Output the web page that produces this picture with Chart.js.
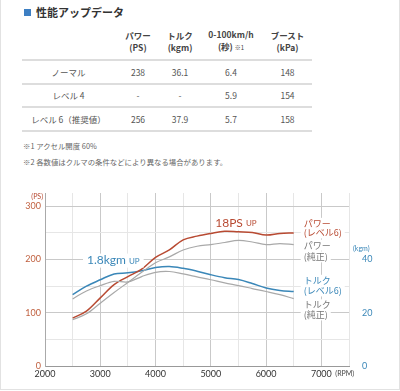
<!DOCTYPE html>
<html lang="ja">
<head>
<meta charset="UTF-8">
<title>性能アップデータ</title>
<script src="https://cdn.jsdelivr.net/npm/chart.js"></script>
<style>
    body {
        margin: 0;
        padding: 0;
        background: #fff;
        font-family: "Noto Sans CJK JP", "Noto Sans", sans-serif;
        color: #444;
    }

    .pagina {
        position: relative;
        width: 398px;
        height: 389px;
        border: 1px solid #e2e2e2;
        border-top: none;
        overflow: hidden;
    }

    .titulo {
        position: absolute;
        left: 23px;
        top: 4px;
        font-size: 11px;
        font-weight: bold;
        color: #333;
        line-height: 16px;
    }

    .titulo span {
        display: inline-block;
        width: 7px;
        height: 7px;
        background: #3d7fc3;
        margin-right: 5px;
        vertical-align: 1px;
    }

    table {
        position: absolute;
        left: 21px;
        top: 23px;
        border-collapse: collapse;
        font-size: 8.5px;
        color: #555;
    }

    th {
        font-weight: bold;
        color: #444;
        line-height: 12.5px;
        height: 36px;
        padding: 0;
        border-bottom: 2px solid #ddd;
        vertical-align: middle;
    }

    th small {
        font-size: 6px;
        font-weight: normal;
    }

    td {
        text-align: center;
        height: 21.5px;
        padding: 0;
        border-bottom: 2px solid #ddd;
    }

    .notas {
        position: absolute;
        left: 22px;
        top: 138px;
        font-size: 7.4px;
        color: #666;
        line-height: 16px;
    }

    .grafico {
        position: absolute;
        left: 0;
        top: 180px;
        width: 400px;
        height: 205px;
    }
</style>
</head>
<body>
<div class="pagina">
    <div class="titulo"><span></span>性能アップデータ</div>
    <table>
        <tr>
            <th style="width:93px"></th>
            <th style="width:46px">パワー<br>(PS)</th>
            <th style="width:38px">トルク<br>(kgm)</th>
            <th style="width:64px">0-100km/h<br>(秒) <small>※1</small></th>
            <th style="width:49px">ブースト<br>(kPa)</th>
        </tr>
        <tr><td>ノーマル</td><td>238</td><td>36.1</td><td>6.4</td><td>148</td></tr>
        <tr><td>レベル 4</td><td>-</td><td>-</td><td>5.9</td><td>154</td></tr>
        <tr><td>レベル 6（推奨値）</td><td>256</td><td>37.9</td><td>5.7</td><td>158</td></tr>
    </table>
    <div class="notas">
        ※1 アクセル開度 60%<br>
        ※2 各数値はクルマの条件などにより異なる場合があります。
    </div>
    <div class="grafico">
        <canvas id="graficoPotencia"></canvas>
    </div>
</div>

<script>
    // dados
    const rpm = [2500, 2750, 3000, 3250, 3500, 3750, 4000, 4250, 4500, 4750, 5000, 5250, 5500, 5750, 6000, 6250, 6500];
    const potenciaNivel6 = [90, 103, 128, 153, 168, 182, 204, 218, 237, 244, 249, 253, 252, 251, 246, 249, 250];
    const potenciaOriginal = [87, 98, 118, 138, 157, 176, 194, 205, 218, 225, 228, 232, 236, 233, 228, 230, 228];
    const torqueNivel6 = [26.8, 30, 32.4, 34.6, 35, 35.8, 37, 37.4, 36.7, 35.6, 34.3, 33.2, 32.5, 31, 29.3, 28.4, 28];
    const torqueOriginal = [25.2, 28.2, 30.2, 31.8, 31.6, 33.6, 35.2, 35.5, 34.6, 33.5, 32.4, 31.2, 30.2, 29.1, 28, 26.8, 25.3];

    const ticksRpm = [2000, 3000, 4000, 5000, 6000, 7000];
    const ticksPs = [0, 100, 200, 300];
    const ticksKgm = [0, 20, 40];

    const vermelho = '#b84a32';
    const azul = '#3a87b8';
    const cinza = '#a9a9a9';

    function pontos(valores) {
        return rpm.map((r, i) => ({ x: r, y: valores[i] }));
    }

    // textos dentro do grafico (rotulos das curvas, "UP", unidades)
    const textosPlugin = {
        id: 'textos',
        afterDatasetsDraw(chart) {
            const ctx = chart.ctx;
            const x = chart.scales.x;
            const y = chart.scales.y;
            const area = chart.chartArea;
            ctx.save();
            ctx.textBaseline = 'middle';

            function texto(str, px, ps, tam, cor) {
                let py = y.getPixelForValue(ps);
                ctx.font = tam + 'px "Noto Sans CJK JP", sans-serif';
                ctx.textAlign = 'left';
                let w = ctx.measureText(str).width;
                ctx.fillStyle = '#fff';
                ctx.fillRect(px - 3, py - tam / 2 - 1, w + 6, tam + 2);
                ctx.fillStyle = cor;
                ctx.fillText(str, px, py);
            }

            function comUp(str, px, py, cor) {
                ctx.font = '12px Lato, sans-serif';
                let w1 = ctx.measureText(str).width;
                ctx.font = '8px Lato, sans-serif';
                let w2 = ctx.measureText('UP').width;
                ctx.fillStyle = '#fff';
                ctx.fillRect(px - 4, py - 7, w1 + w2 + 11, 14);
                ctx.fillStyle = cor;
                ctx.font = '12px Lato, sans-serif';
                ctx.fillText(str, px, py);
                ctx.font = '8px Lato, sans-serif';
                ctx.fillText('UP', px + w1 + 3, py + 1);
            }

            comUp('18PS', x.getPixelForValue(5080), y.getPixelForValue(269), vermelho);
            comUp('1.8kgm', x.getPixelForValue(2760), y.getPixelForValue(198), azul);

            // rotulos das curvas na direita
            let lx = x.getPixelForValue(6680);
            texto('パワー', lx, 268, 9, vermelho);
            texto('(レベル6)', lx, 250, 9, vermelho);
            texto('パワー', lx, 227, 9, '#777');
            texto('(純正)', lx, 205, 9, '#777');
            texto('トルク', lx, 161, 9, azul);
            texto('(レベル6)', lx, 141, 9, azul);
            texto('トルク', lx, 115, 9, '#777');
            texto('(純正)', lx, 96, 9, '#777');

            // unidades
            ctx.font = '7px Lato, sans-serif';
            ctx.fillStyle = vermelho;
            ctx.textAlign = 'right';
            ctx.fillText('(PS)', area.left - 2, area.top + 4);
            ctx.fillStyle = azul;
            ctx.textAlign = 'left';
            ctx.fillText('(kgm)', area.right + 4, chart.scales.y2.getPixelForValue(44));
            ctx.fillStyle = '#444';
            ctx.fillText('(RPM)', x.getPixelForValue(7000) + 14, area.bottom + 8);
            ctx.restore();
        }
    };

    const config = {
        type: 'line',
        data: {
            datasets: [
                {
                    label: 'パワー（純正）',
                    data: pontos(potenciaOriginal),
                    yAxisID: 'y',
                    borderColor: cinza,
                    borderWidth: 1.2
                },
                {
                    label: 'トルク（純正）',
                    data: pontos(torqueOriginal),
                    yAxisID: 'y2',
                    borderColor: cinza,
                    borderWidth: 1.2
                },
                {
                    label: 'パワー（レベル6）',
                    data: pontos(potenciaNivel6),
                    yAxisID: 'y',
                    borderColor: vermelho,
                    borderWidth: 1.5
                },
                {
                    label: 'トルク（レベル6）',
                    data: pontos(torqueNivel6),
                    yAxisID: 'y2',
                    borderColor: azul,
                    borderWidth: 1.5
                }
            ]
        },
        options: {
            responsive: true,
            maintainAspectRatio: false,
            animation: false,
            layout: { padding: { top: 13, left: 0, right: 0, bottom: 0 } },
            elements: {
                point: { radius: 0 },
                line: { tension: 0.35, fill: false }
            },
            plugins: {
                legend: { display: false },
                tooltip: { enabled: false }
            },
            scales: {
                x: {
                    type: 'linear',
                    min: 2000,
                    max: 7500,
                    afterFit(scale) { scale.height = 19; },
                    border: { color: '#999' },
                    grid: {
                        drawTicks: false,
                        color: (c) => c.tick && c.tick.value % 1000 === 0 ? '#c9c9c9' : '#e6e6e6'
                    },
                    ticks: {
                        stepSize: 500,
                        padding: 3,
                        color: '#333',
                        font: { size: 9, family: 'Lato' },
                        callback: (v) => ticksRpm.includes(v) ? String(v) : ''
                    }
                },
                y: {
                    position: 'left',
                    min: 0,
                    max: 325,
                    afterFit(scale) { scale.width = 44; },
                    border: { color: '#aaa' },
                    grid: {
                        drawTicks: false,
                        color: (c) => c.tick && c.tick.value % 100 === 0 ? '#c9c9c9' : '#e6e6e6'
                    },
                    ticks: {
                        stepSize: 50,
                        includeBounds: false,
                        padding: 4,
                        color: '#c0603f',
                        font: { size: 9, family: 'Lato' },
                        callback: (v) => ticksPs.includes(v) ? String(v) : ''
                    }
                },
                y2: {
                    position: 'right',
                    min: 0,
                    max: 65,
                    afterFit(scale) { scale.width = 52; },
                    border: { display: false },
                    grid: { display: false },
                    ticks: {
                        stepSize: 10,
                        includeBounds: false,
                        padding: 5,
                        color: azul,
                        font: { size: 9, family: 'Lato' },
                        callback: (v) => ticksKgm.includes(v) ? String(v) : ''
                    }
                }
            }
        },
        plugins: [textosPlugin]
    };

    let myChart = new Chart(document.getElementById('graficoPotencia'), config);
</script>
</body>
</html>
